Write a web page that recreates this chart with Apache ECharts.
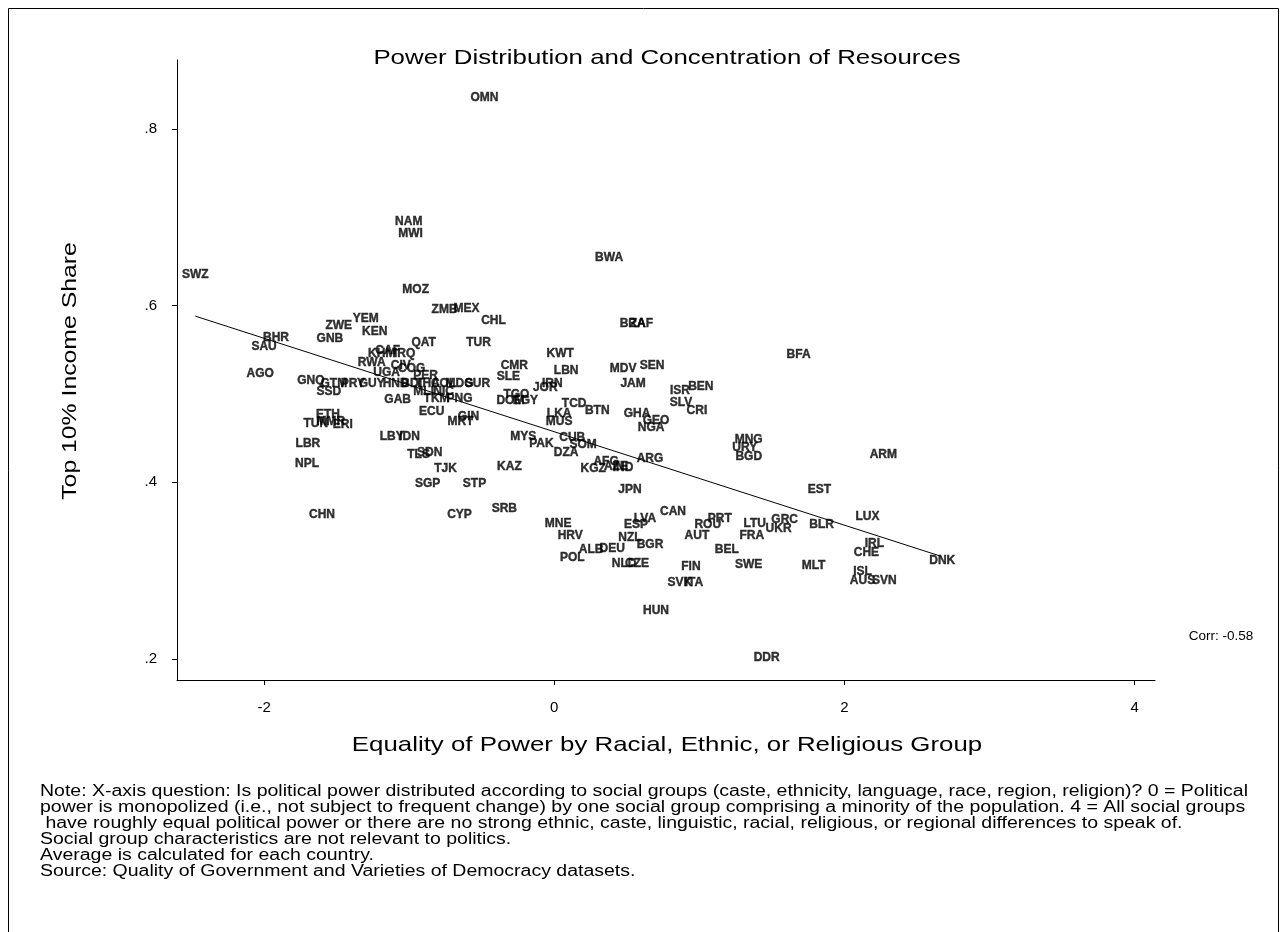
<!DOCTYPE html>
<html lang="en">
<head>
  <meta charset="UTF-8">
  <title>Power Distribution</title>
  <script src="https://cdn.jsdelivr.net/npm/echarts@6.0.0/dist/echarts.min.js"></script>
  <style>
    html, body { margin:0; padding:0; background:#fff; }
    #main { width:1287px; height:932px; }
  </style>
</head>
<body>
<div id="main"></div>
<script>
  // country codes, equality of power (x), top 10% income share (y)
  var codes = ['SWZ','BHR','SAU','AGO','ZWE','YEM','KEN','GNB','NAM','MWI','MOZ','ZMB','MEX','CHL','OMN','QAT','TUR',
    'CAF','KHM','IRQ','RWA','UGA','CIV','COG','PER','GNQ','SSD','GTM','PRY','GUY','HND','BDI','THA','COL','MDG','SUR',
    'MLI','NIC','TKM','PNG','GAB','ECU','GIN','MRT','ETH','MMR','TUN','ERI','LBR','NPL','LBY','IDN','TLS','SDN','TJK',
    'KAZ','SGP','STP','CHN','CYP','SRB','KWT','CMR','SLE','LBN','IRN','JOR','TGO','DOM','EGY','TCD','BTN','LKA','MUS',
    'MYS','PAK','CUB','SOM','DZA','KGZ','AFG','IND','AZE','ARG','JPN','CAN','LVA','ESP','MNE','HRV','POL','ALB','DEU',
    'NZL','BGR','NLD','CZE','FIN','SVK','ITA','HUN','AUT','ROU','PRT','BEL','LTU','GRC','UKR','FRA','SWE','BLR','MLT',
    'LUX','IRL','CHE','ISL','AUS','SVN','DNK','EST','ARM','MNG','URY','BGD','BFA','BWA','BRA','ZAF','MDV','SEN','JAM',
    'ISR','BEN','SLV','CRI','GHA','GEO','NGA','DDR'];
  var xVals = [-2.474,-1.918,-2.000,-2.027,-1.485,-1.299,-1.237,-1.546,-1.003,-0.990,-0.955,-0.756,-0.605,-0.419,-0.481,-0.900,-0.522,
    -1.148,-1.189,-1.031,-1.258,-1.155,-1.058,-0.983,-0.887,-1.677,-1.553,-1.519,-1.388,-1.258,-1.093,-0.983,-0.873,-0.763,-0.653,-0.529,
    -0.900,-0.763,-0.811,-0.653,-1.079,-0.845,-0.591,-0.646,-1.560,-1.540,-1.643,-1.457,-1.698,-1.704,-1.120,-0.997,-0.935,-0.859,-0.749,
    -0.309,-0.873,-0.550,-1.601,-0.653,-0.344,0.041,-0.275,-0.316,0.082,-0.014,-0.062,-0.261,-0.302,-0.199,0.137,0.296,0.034,0.034,
    -0.213,-0.089,0.124,0.199,0.082,0.268,0.357,0.474,0.425,0.660,0.522,0.818,0.625,0.564,0.027,0.110,0.124,0.254,0.399,
    0.522,0.660,0.481,0.570,0.942,0.866,0.962,0.701,0.983,1.058,1.141,1.189,1.381,1.588,1.546,1.361,1.340,1.842,1.787,
    2.158,2.206,2.151,2.124,2.124,2.275,2.674,1.828,2.268,1.340,1.313,1.340,1.684,0.378,0.540,0.600,0.474,0.674,0.543,
    0.866,1.010,0.873,0.983,0.570,0.701,0.667,1.464];
  var yVals = [0.635,0.564,0.553,0.523,0.577,0.585,0.570,0.563,0.695,0.681,0.618,0.595,0.596,0.583,0.835,0.558,0.558,
    0.549,0.545,0.545,0.535,0.524,0.532,0.529,0.521,0.515,0.503,0.511,0.511,0.511,0.512,0.511,0.512,0.512,0.512,0.512,
    0.503,0.503,0.494,0.494,0.493,0.480,0.474,0.468,0.476,0.469,0.466,0.465,0.444,0.421,0.452,0.451,0.431,0.433,0.415,
    0.418,0.398,0.398,0.363,0.363,0.370,0.546,0.532,0.519,0.526,0.512,0.507,0.499,0.492,0.492,0.489,0.481,0.477,0.468,
    0.451,0.444,0.450,0.442,0.433,0.415,0.423,0.416,0.417,0.427,0.392,0.367,0.359,0.352,0.353,0.339,0.314,0.323,0.325,
    0.337,0.329,0.308,0.308,0.304,0.286,0.286,0.255,0.339,0.352,0.359,0.324,0.353,0.358,0.347,0.339,0.307,0.352,0.305,
    0.361,0.330,0.320,0.299,0.289,0.289,0.311,0.392,0.431,0.448,0.439,0.429,0.544,0.654,0.579,0.579,0.529,0.532,0.511,
    0.504,0.508,0.490,0.481,0.478,0.470,0.462,0.201];

  // linear fit, drawn between its two end points
  var fitX = [-2.474, 2.667];
  var fitY = [0.588, 0.316];

  var xTicks = [-2, 0, 2, 4];
  var yTicks = [0.2, 0.4, 0.6, 0.8];

  var noteLines = [
    'Note: X-axis question: Is political power distributed according to social groups (caste, ethnicity, language, race, region, religion)? 0 = Political',
    'power is monopolized (i.e., not subject to frequent change) by one social group comprising a minority of the population. 4 = All social groups',
    ' have roughly equal political power or there are no strong ethnic, caste, linguistic, racial, religious, or regional differences to speak of.',
    'Social group characteristics are not relevant to politics.',
    'Average is calculated for each country.',
    'Source: Quality of Government and Varieties of Democracy datasets.'
  ];

  var pts = codes.map(function(c, i){ return {name:c, value:[xVals[i], yVals[i]]}; });
  var fitData = fitX.map(function(x, i){ return [x, fitY[i]]; });

  var font = '"Liberation Sans", Arial, Helvetica, sans-serif';
  var chart = echarts.init(document.getElementById('main'), null, {renderer:'canvas'});

  chart.setOption({
    backgroundColor:'#fff',
    animation:false,
    textStyle:{fontFamily:font},
    grid:{left:177, right:132, top:60, bottom:252},
    xAxis:{
      type:'value', min:-2.6, max:4.14,
      axisLine:{show:true, onZero:false, lineStyle:{color:'#000', width:1}},
      axisTick:{show:true, length:5, lineStyle:{color:'#000'}, customValues:xTicks},
      axisLabel:{fontSize:15, color:'#000', margin:20, customValues:xTicks},
      splitLine:{show:false}
    },
    yAxis:{
      type:'value', min:0.176, max:0.878,
      axisLine:{show:true, onZero:false, lineStyle:{color:'#000', width:1}},
      axisTick:{show:true, length:5, lineStyle:{color:'#000'}, customValues:yTicks},
      axisLabel:{fontSize:15, color:'#000', margin:20, customValues:yTicks,
        formatter:function(v){ return String(Math.round(v*10)/10).replace(/^0/, ''); }},
      splitLine:{show:false}
    },
    series:[
      {
        type:'scatter',
        data:pts,
        symbolSize:1,
        itemStyle:{color:'rgba(0,0,0,0)'},
        label:{show:true, position:'inside', formatter:'{b}', color:'#000',
          fontSize:12, fontWeight:'bold', fontFamily:font,
          textBorderColor:'#000', textBorderWidth:0.4},
        labelLayout:{hideOverlap:false},
        silent:true
      },
      {
        type:'line',
        data:fitData,
        symbol:'none',
        lineStyle:{color:'#000', width:1},
        silent:true
      }
    ],
    graphic:[
      {type:'rect', shape:{x:8.5, y:8.5, width:1270, height:940}, style:{fill:'none', stroke:'#000', lineWidth:1}, silent:true},
      {type:'text', x:667, y:58, scaleX:1.23, style:{text:'Power Distribution and Concentration of Resources', fontSize:21, fill:'#000',
        fontFamily:font, textAlign:'center', textVerticalAlign:'middle'}},
      {type:'text', x:667, y:745, scaleX:1.23, style:{text:'Equality of Power by Racial, Ethnic, or Religious Group', fontSize:21, fill:'#000',
        fontFamily:font, textAlign:'center', textVerticalAlign:'middle'}},
      {type:'text', x:70, y:371, rotation:Math.PI/2, scaleX:1.18, style:{text:'Top 10% Income Share', fontSize:21, fill:'#000',
        fontFamily:font, textAlign:'center', textVerticalAlign:'middle'}},
      {type:'text', x:1221, y:636, style:{text:'Corr: -0.58', fontSize:13.5, fill:'#000',
        fontFamily:font, textAlign:'center', textVerticalAlign:'middle'}},
      {type:'text', x:40, y:784, scaleX:1.218, style:{text:noteLines.join('\n'), fontSize:16, lineHeight:16, fill:'#000',
        fontFamily:font, textAlign:'left', textVerticalAlign:'top'}}
    ]
  });
</script>
</body>
</html>
